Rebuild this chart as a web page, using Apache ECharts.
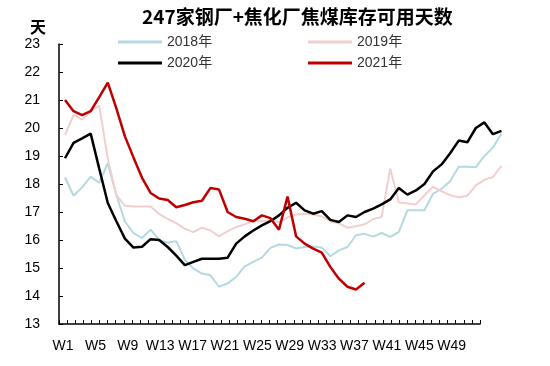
<!DOCTYPE html>
<html>
<head>
<meta charset="utf-8">
<script src="https://cdn.jsdelivr.net/npm/echarts@6/dist/echarts.min.js"></script>
<style>html,body{margin:0;padding:0;background:#fff}#c{width:550px;height:366px}</style>
</head>
<body>
<div id="c"></div>
<script>
var weeks = ['W1','W2','W3','W4','W5','W6','W7','W8','W9','W10','W11','W12','W13','W14','W15','W16','W17','W18','W19','W20','W21','W22','W23','W24','W25','W26','W27','W28','W29','W30','W31','W32','W33','W34','W35','W36','W37','W38','W39','W40','W41','W42','W43','W44','W45','W46','W47','W48','W49','W50','W51','W52'];
var yTicks = [13, 23, 1];
var y2018 = [18.24,17.58,17.88,18.26,18.05,18.74,17.6,16.66,16.25,16.07,16.37,16.0,15.9,15.96,15.3,14.98,14.8,14.74,14.33,14.45,14.68,15.06,15.22,15.37,15.72,15.84,15.82,15.7,15.75,15.77,15.73,15.42,15.63,15.75,16.17,16.22,16.12,16.25,16.11,16.28,17.06,17.06,17.06,17.65,17.83,18.1,18.62,18.62,18.6,19.0,19.3,19.8];
var y2019 = [19.75,20.46,20.3,20.6,20.8,18.9,17.6,17.22,17.2,17.2,17.2,16.93,16.75,16.6,16.4,16.28,16.44,16.34,16.13,16.32,16.46,16.56,16.67,16.68,16.7,16.64,16.8,16.91,16.94,16.91,16.84,16.67,16.6,16.44,16.49,16.56,16.75,16.82,18.55,17.35,17.3,17.27,17.6,17.9,17.74,17.6,17.53,17.58,17.95,18.15,18.25,18.65];
var y2020 = [18.92,19.47,19.63,19.8,18.55,17.32,16.67,16.05,15.73,15.76,16.03,16.0,15.75,15.44,15.1,15.22,15.33,15.33,15.33,15.37,15.87,16.13,16.34,16.52,16.67,16.88,17.15,17.33,17.06,16.94,17.03,16.72,16.64,16.88,16.82,17.0,17.12,17.27,17.45,17.86,17.62,17.77,18.0,18.45,18.7,19.1,19.55,19.49,20.0,20.2,19.78,19.9];
var y2021 = [21.0,20.6,20.46,20.6,21.1,21.62,20.7,19.7,18.95,18.22,17.68,17.48,17.43,17.17,17.25,17.35,17.4,17.86,17.8,17.0,16.82,16.76,16.67,16.88,16.78,16.37,17.55,16.13,15.87,15.69,15.55,15.04,14.62,14.33,14.23,14.47];
var seriesNames = ['2018年','2019年','2020年','2021年'];
var colors = ['#b3d9e1','#f2cfcf','#000000','#c00000'];

var chart = echarts.init(document.getElementById('c'));
var fontLatin = '"Liberation Sans", "Noto Sans CJK SC", sans-serif';
var legendPos = [[118,35],[308,35],[118,56],[308,56]];
function mkLegend(i){
  return {data:[seriesNames[i]], left:legendPos[i][0], top:legendPos[i][1], padding:0, icon:'rect', itemWidth:44, itemHeight:3, itemGap:0,
    textStyle:{fontSize:14, color:'#333', fontFamily:fontLatin}};
}
var widths = [2, 2, 2.5, 2.5];
var datas = [y2018, y2019, y2020, y2021];
var option = {
  animation:false,
  backgroundColor:'#fff',
  title:{text:'247家钢厂+焦化厂焦煤库存可用天数', left:137, top:2,
    textStyle:{fontSize:19, fontWeight:'bold', color:'#000', fontFamily:'"Noto Sans CJK SC", sans-serif'}},
  legend:[mkLegend(0),mkLegend(1),mkLegend(2),mkLegend(3)],
  grid:[{left:59, right:70, top:44, bottom:42},{left:65, right:48.5, top:44, bottom:42}],
  xAxis:[
    {type:'category', gridIndex:0, data:weeks, boundaryGap:true,
     axisLine:{lineStyle:{color:'#000', width:1.5}},
     axisTick:{show:true, inside:true, length:4, interval:0, lineStyle:{color:'#000', width:1}},
     axisLabel:{interval:3, fontSize:14, color:'#000', margin:15, fontFamily:fontLatin},
     splitLine:{show:false}},
    {type:'category', gridIndex:1, data:weeks, boundaryGap:false, show:false}
  ],
  yAxis:[
    {type:'value', gridIndex:0, min:yTicks[0], max:yTicks[1], interval:yTicks[2],
     name:'天', nameLocation:'end', nameGap:9,
     nameTextStyle:{fontSize:16, fontWeight:'bold', color:'#000', fontFamily:'"Noto Sans CJK SC", sans-serif', align:'center', padding:[0,42,0,0]},
     axisLine:{show:true, lineStyle:{color:'#000', width:1.5}},
     axisTick:{show:true, inside:true, length:4, lineStyle:{color:'#000', width:1}},
     axisLabel:{fontSize:14, color:'#000', margin:19, fontFamily:fontLatin},
     splitLine:{show:false}},
    {type:'value', gridIndex:1, min:yTicks[0], max:yTicks[1], show:false}
  ],
  series: seriesNames.map(function(n,i){
    return {name:n, type:'line', xAxisIndex:1, yAxisIndex:1, data:datas[i], showSymbol:false, symbol:'none',
      lineStyle:{color:colors[i], width:widths[i]}, itemStyle:{color:colors[i]}, z:2+i};
  })
};
chart.setOption(option);
</script>
</body>
</html>
